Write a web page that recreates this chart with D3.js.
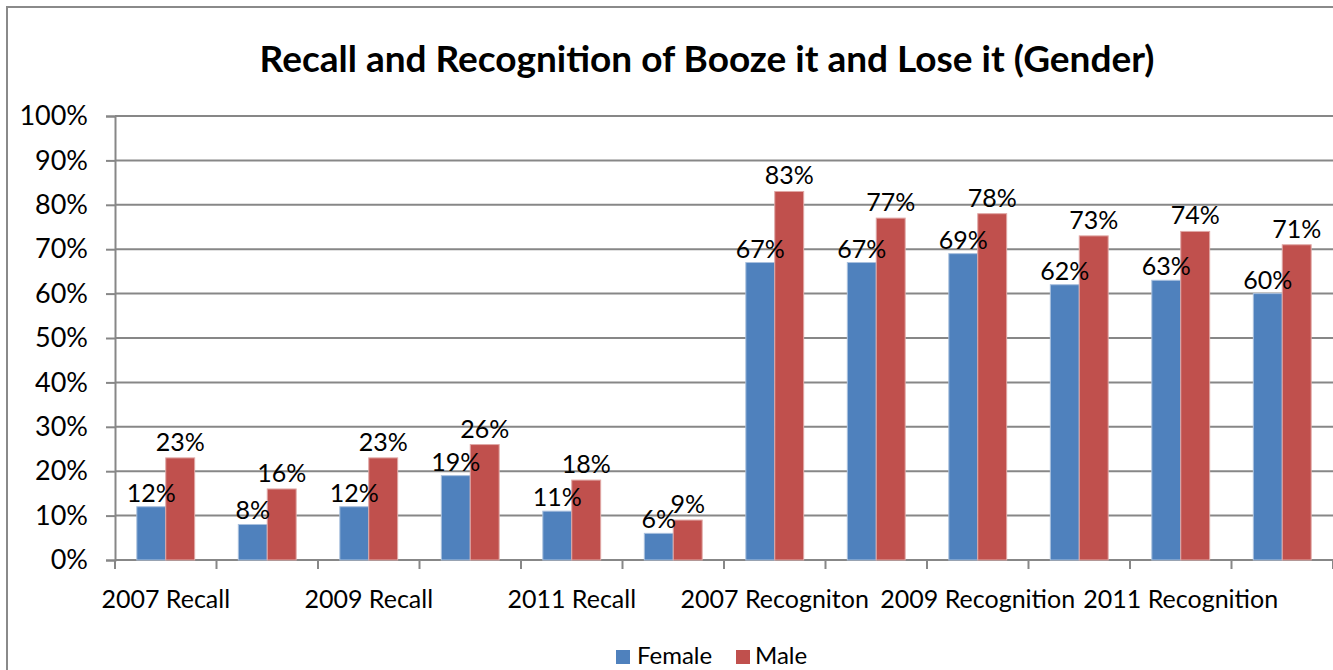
<!DOCTYPE html>
<html>
<head>
<meta charset="utf-8">
<script src="https://cdn.jsdelivr.net/npm/d3@7"></script>
<style>
  body { margin: 0; background: #fff; }
  svg text { font-family: Lato, "Open Sans", sans-serif; fill: #000; }
</style>
</head>
<body>
<div class="chart"></div>
<script>
// === Data ===
const categories = ["2007 Recall", "2008 Recall", "2009 Recall", "2010 Recall", "2011 Recall", "2012 Recall",
    "2007 Recogniton", "2008 Recognition", "2009 Recognition", "2010 Recognition", "2011 Recognition", "2012 Recognition"];
// only every other category label fits, as in the original
const shownLabels = ["2007 Recall", "2009 Recall", "2011 Recall", "2007 Recogniton", "2009 Recognition", "2011 Recognition"];
const seriesNames = ["Female", "Male"];
const female = [0.12, 0.08, 0.12, 0.19, 0.11, 0.06, 0.67, 0.67, 0.69, 0.62, 0.63, 0.60];
const male = [0.23, 0.16, 0.23, 0.26, 0.18, 0.09, 0.83, 0.77, 0.78, 0.73, 0.74, 0.71];
const yTicks = [0, 0.1, 0.2, 0.3, 0.4, 0.5, 0.6, 0.7, 0.8, 0.9, 1.0];

const colors = { Female: "#4F81BD", Male: "#C0504D" };

const W = 1333, H = 670;
const margin = { top: 116, right: 0, bottom: 110, left: 115 };
const width = W - margin.left - margin.right,
      height = H - margin.top - margin.bottom;

const svg = d3.select(".chart").append("svg")
    .attr("width", W)
    .attr("height", H);

// outer chart border
svg.append("rect")
    .attr("x", 7).attr("y", 7)
    .attr("width", W + 10).attr("height", H + 10)
    .attr("fill", "none")
    .attr("stroke", "#8a8a8a")
    .attr("stroke-width", 2);

// title
svg.append("text")
    .attr("x", 707).attr("y", 57)
    .attr("text-anchor", "middle")
    .attr("dominant-baseline", "central")
    .attr("font-size", "37px")
    .attr("font-weight", "bold")
    .text("Recall and Recognition of Booze it and Lose it (Gender)");

const g = svg.append("g")
    .attr("transform", `translate(${margin.left},${margin.top})`);

// === Scales ===
const x0 = d3.scaleBand()
    .domain(d3.range(categories.length))
    .range([0, width])
    .paddingInner(0.43)
    .paddingOuter(0.215);

const x1 = d3.scaleBand()
    .domain(seriesNames)
    .range([0, x0.bandwidth()]);

const y = d3.scaleLinear()
    .domain([0, 1])
    .range([height, 0]);

// gridlines
g.append("g").selectAll("line")
    .data(yTicks.filter(d => d > 0))
    .enter().append("line")
    .attr("x1", 0).attr("x2", width)
    .attr("y1", d => y(d)).attr("y2", d => y(d))
    .attr("stroke", "#878787")
    .attr("stroke-width", 2);

// === Axes ===
const yAxis = d3.axisLeft(y)
    .tickValues(yTicks)
    .tickSize(9)
    .tickPadding(18)
    .tickFormat(d3.format(".0%"));

const yg = g.append("g").call(yAxis);
yg.select(".domain").attr("stroke", "#878787").attr("stroke-width", 2);
yg.selectAll(".tick line").attr("stroke", "#878787").attr("stroke-width", 2);
yg.selectAll(".tick text").attr("font-size", "27px").attr("font-family", "Lato, sans-serif");

// x axis: ticks at the group boundaries
const step = x0.step();
const xg = g.append("g").attr("transform", `translate(0,${height})`);
xg.append("line")
    .attr("x1", 0).attr("x2", width)
    .attr("stroke", "#878787").attr("stroke-width", 2);
xg.selectAll(".xtick")
    .data(d3.range(categories.length + 1))
    .enter().append("line")
    .attr("class", "xtick")
    .attr("x1", d => d * step).attr("x2", d => d * step)
    .attr("y1", 0).attr("y2", 9)
    .attr("stroke", "#878787").attr("stroke-width", 2);
xg.selectAll(".xlabel")
    .data(categories.map((c, i) => ({ c, i })).filter(d => shownLabels.includes(d.c)))
    .enter().append("text")
    .attr("class", "xlabel")
    .attr("x", d => x0(d.i) + x0.bandwidth() / 2)
    .attr("y", 38)
    .attr("text-anchor", "middle")
    .attr("dominant-baseline", "central")
    .attr("font-size", "25px")
    .text(d => d.c);

// === Bars ===
const rows = categories.map((c, i) => ({
    i,
    values: [{ key: "Female", v: female[i] }, { key: "Male", v: male[i] }]
}));

const groups = g.append("g").selectAll("g")
    .data(rows)
    .enter().append("g")
    .attr("transform", d => `translate(${x0(d.i)},0)`);

groups.selectAll("rect")
    .data(d => d.values)
    .enter().append("rect")
    .attr("x", d => x1(d.key))
    .attr("y", d => y(d.v))
    .attr("width", x1.bandwidth())
    .attr("height", d => height - y(d.v))
    .attr("fill", d => colors[d.key])
    .attr("stroke", d => d.key === "Female" ? "#a9c0de" : "#e0a8a6")
    .attr("stroke-width", 1);

groups.selectAll("text")
    .data(d => d.values)
    .enter().append("text")
    .attr("x", d => x1(d.key) + x1.bandwidth() / 2)
    .attr("y", d => y(d.v) - (d.key === "Male" ? 7 : 5))
    .attr("text-anchor", "middle")
    .attr("font-size", "25px")
    .text(d => d3.format(".0%")(d.v));

// === Legend ===
const legend = svg.append("g").attr("class", "legend");
const legendItems = [{ key: "Female", x: 616, tx: 637 }, { key: "Male", x: 736, tx: 755 }];
legend.selectAll("rect")
    .data(legendItems)
    .enter().append("rect")
    .attr("x", d => d.x).attr("y", 650)
    .attr("width", 14).attr("height", 14)
    .attr("fill", d => colors[d.key]);
legend.selectAll("text")
    .data(legendItems)
    .enter().append("text")
    .attr("x", d => d.tx).attr("y", 654)
    .attr("dominant-baseline", "central")
    .attr("font-size", "24px")
    .text(d => d.key);
</script>
</body>
</html>
